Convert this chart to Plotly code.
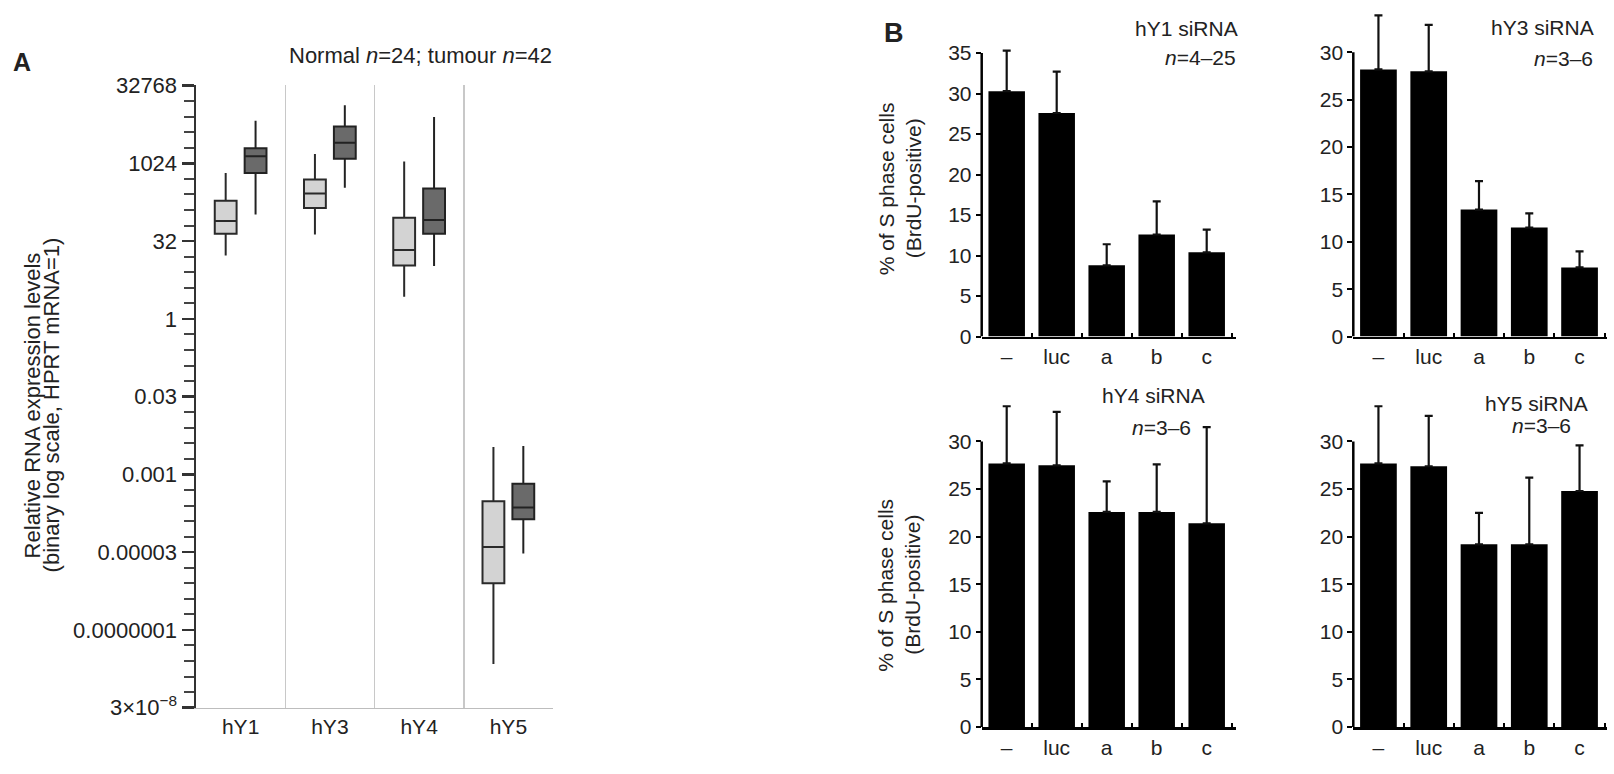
import plotly.graph_objects as go

W, H = 1614, 774
FONT = "Liberation Sans, Arial, Helvetica, sans-serif"
TXT = "#222222"

# ---------------- Panel A data (binary log units, log2 of relative expression) ----------------
genes = ["hY1", "hY3", "hY4", "hY5"]
normal_lowfence_log2 = [4.08, 5.43, 1.42, -22.19]
normal_q1_log2 = [5.47, 7.13, 3.43, -17.0]
normal_median_log2 = [6.30, 8.07, 4.43, -14.67]
normal_q3_log2 = [7.59, 8.96, 6.51, -11.73]
normal_upfence_log2 = [9.38, 10.6, 10.12, -8.24]

tumour_lowfence_log2 = [6.72, 8.44, 3.40, -15.09]
tumour_q1_log2 = [9.38, 10.29, 5.47, -12.89]
tumour_median_log2 = [10.46, 11.33, 6.36, -12.12]
tumour_q3_log2 = [10.97, 12.37, 8.38, -10.6]
tumour_upfence_log2 = [12.74, 13.74, 12.99, -8.18]

major_exp = [15, 10, 5, 0, -5, -10, -15, -20, -25]
major_labels = ["32768", "1024", "32", "1", "0.03", "0.001", "0.00003", "0.0000001",
                "3×10<sup>−8</sup>"]

# ---------------- Panel B data ----------------
conditions = ["–", "luc", "a", "b", "c"]
hY1_mean = [30.3, 27.6, 8.8, 12.6, 10.4]
hY1_err = [5.0, 5.1, 2.6, 4.1, 2.8]
hY3_mean = [28.2, 28.0, 13.4, 11.5, 7.3]
hY3_err = [5.7, 4.9, 3.0, 1.5, 1.7]
hY4_mean = [27.7, 27.5, 22.6, 22.6, 21.4]
hY4_err = [6.0, 5.6, 3.2, 5.0, 10.1]
hY5_mean = [27.7, 27.4, 19.2, 19.2, 24.8]
hY5_err = [6.0, 5.3, 3.3, 7.0, 4.8]


def px(x):
    return x / W


def py(y):
    return 1 - y / H


def p2(vals):
    return [2.0 ** v for v in vals]


fig = go.Figure()

fig.add_trace(go.Box(
    x=genes, q1=p2(normal_q1_log2), median=p2(normal_median_log2), q3=p2(normal_q3_log2),
    lowerfence=p2(normal_lowfence_log2), upperfence=p2(normal_upfence_log2),
    name="Normal", fillcolor="#d3d3d3", line=dict(color="#2a2a2a", width=2),
    whiskerwidth=0, xaxis="x", yaxis="y", showlegend=False, hoverinfo="skip"))
fig.add_trace(go.Box(
    x=genes, q1=p2(tumour_q1_log2), median=p2(tumour_median_log2), q3=p2(tumour_q3_log2),
    lowerfence=p2(tumour_lowfence_log2), upperfence=p2(tumour_upfence_log2),
    name="Tumour", fillcolor="#6a6a6a", line=dict(color="#222222", width=2),
    whiskerwidth=0, xaxis="x", yaxis="y", showlegend=False, hoverinfo="skip"))

panels = [
    ("x2", "y2", hY1_mean, hY1_err),
    ("x3", "y3", hY3_mean, hY3_err),
    ("x4", "y4", hY4_mean, hY4_err),
    ("x5", "y5", hY5_mean, hY5_err),
]
for xa, ya, m, e in panels:
    fig.add_trace(go.Bar(
        x=conditions, y=m, marker=dict(color="#000000", line=dict(width=0)),
        error_y=dict(type="data", array=e, arrayminus=[0] * len(e), symmetric=False,
                     color="#111111", thickness=2.2, width=4),
        xaxis=xa, yaxis=ya, showlegend=False, hoverinfo="skip"))

LOG2 = 0.30102999566

layout = dict(
    width=W, height=H, margin=dict(l=0, r=0, t=0, b=0),
    paper_bgcolor="white", plot_bgcolor="white",
    font=dict(family=FONT, size=21, color=TXT),
    boxmode="group", boxgap=0.33, boxgroupgap=0.27,
    bargap=0.27, showlegend=False,
)

# Panel A axes
layout["xaxis"] = dict(
    domain=[px(196), px(553)], type="category", categoryorder="array", categoryarray=genes,
    range=[-0.5, 3.5], tickson="boundaries", ticks="", showgrid=True,
    gridcolor="#c8c8c8", gridwidth=1.5, showline=True, linecolor="#bdbdbd", linewidth=1.5,
    tickfont=dict(size=21, color=TXT), anchor="y", fixedrange=True)
minor_vals = [2.0 ** k for k in range(-25, 16) if k not in major_exp]
layout["yaxis"] = dict(
    domain=[py(719), py(76.2)], type="log",
    range=[-25 * LOG2, 15.05 * LOG2],
    tickmode="array", tickvals=[2.0 ** k for k in major_exp], ticktext=major_labels,
    ticks="outside", ticklen=12, tickwidth=2.5, tickcolor="#333333",
    minor=dict(tickmode="array", tickvals=minor_vals, ticks="outside", ticklen=10,
               tickwidth=2, tickcolor="#444444", showgrid=False),
    showline=True, linecolor="#333333", linewidth=2.5, showgrid=False, zeroline=False,
    tickfont=dict(size=22, color=TXT), anchor="x", fixedrange=True)

# Panel B axes
bx = {"x2": (981.7, 1236.0, 4.586), "x3": (1353.3, 1606.7, 4.54),
      "x4": (981.7, 1236.0, 4.586), "x5": (1353.3, 1606.7, 4.54)}
by = {"y2": (336, 38.4, 35.6, 35), "y3": (336, 1.6, 34.2, 30),
      "y4": (739, 403, 34.2, 30), "y5": (739, 403, 34.2, 30)}
for k, (a, b, r) in bx.items():
    layout["xaxis" + k[1:]] = dict(
        domain=[px(a), px(b)], type="category", categoryorder="array", categoryarray=conditions,
        range=[-0.5, r], tickson="boundaries", ticks="inside", ticklen=4, tickwidth=2,
        tickcolor="#000000", showline=True, linecolor="#000000", linewidth=2.5,
        showgrid=False, tickfont=dict(size=21, color=TXT), anchor="y" + k[1:], fixedrange=True)
for k, (bot, top, r, tmax) in by.items():
    layout["yaxis" + k[1:]] = dict(
        domain=[py(bot), py(top)], range=[0, r], tickmode="array",
        tickvals=list(range(0, tmax + 1, 5)), ticks="outside", ticklen=5, tickwidth=2,
        tickcolor="#000000", showline=False, showgrid=False, zeroline=False,
        tickfont=dict(size=21, color=TXT), anchor="x" + k[1:], fixedrange=True)

shapes = []
for k, (bot, top, r, tmax) in by.items():
    n = k[1:]
    shapes.append(dict(type="line", xref="x%s domain" % n, yref="y" + n,
                       x0=0, x1=0, y0=0, y1=tmax, line=dict(color="#000000", width=2.5)))
layout["shapes"] = shapes


def ann(text, x, y, xanchor="center", size=21, angle=0, yanchor="middle"):
    return dict(text=text, x=px(x), y=py(y), xref="paper", yref="paper", showarrow=False,
                xanchor=xanchor, yanchor=yanchor, textangle=angle,
                font=dict(family=FONT, size=size, color=TXT))


annotations = [
    ann("<b>A</b>", 11, 53, xanchor="left", size=25),
    ann("<b>B</b>", 882, 23, xanchor="left", size=27),
    ann("Normal <i>n</i>=24; tumour <i>n</i>=42", 420, 46, size=22),
    ann("Relative RNA expression levels", 32, 407, angle=-90, size=22),
    ann("(binary log scale, HPRT mRNA=1)", 51, 407, angle=-90, size=22),
    ann("% of S phase cells", 886, 183, angle=-90),
    ann("(BrdU-positive)", 913, 183, angle=-90),
    ann("% of S phase cells", 886, 592, angle=-90),
    ann("(BrdU-positive)", 913, 592, angle=-90),
    ann("hY1 siRNA", 1240, 18, xanchor="right"),
    ann("<i>n</i>=4–25", 1238, 48, xanchor="right"),
    ann("hY3 siRNA", 1596, 17, xanchor="right"),
    ann("<i>n</i>=3–6", 1595, 49, xanchor="right"),
    ann("hY4 siRNA", 1207, 397, xanchor="right"),
    ann("<i>n</i>=3–6", 1193, 430, xanchor="right"),
    ann("hY5 siRNA", 1590, 405, xanchor="right"),
    ann("<i>n</i>=3–6", 1573, 428, xanchor="right"),
]
layout["annotations"] = annotations

fig.update_layout(**layout)
fig.write_html(
    "out.html",
    config={"displayModeBar": False, "staticPlot": True},
    post_script="document.body.style.margin='0';document.body.style.padding='0';"
                "document.documentElement.style.overflow='hidden';")
